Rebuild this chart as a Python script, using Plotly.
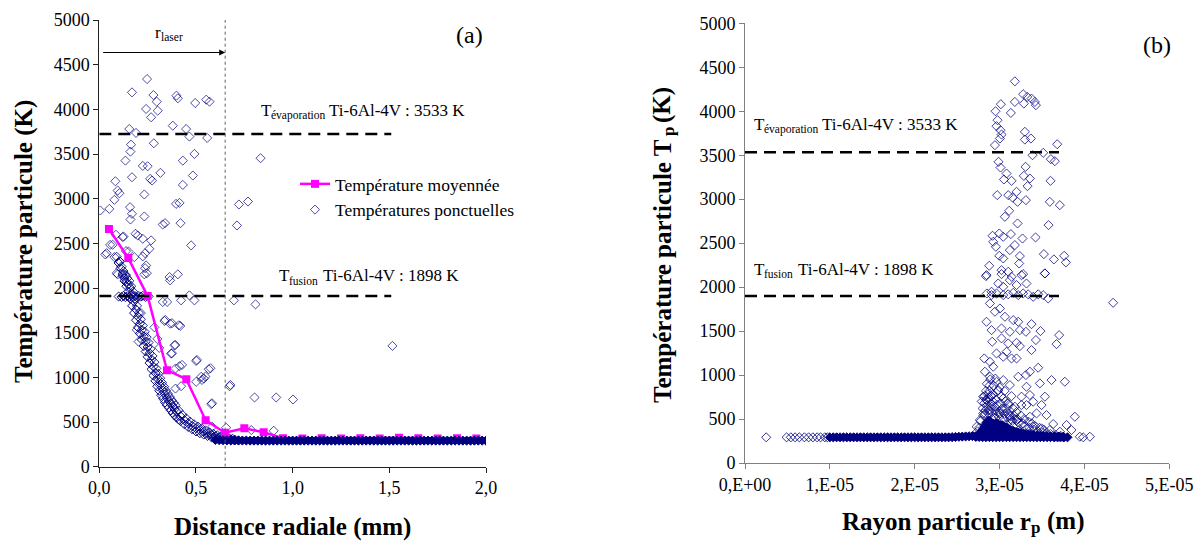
import plotly.graph_objects as go

FONT = "Liberation Serif"
NAVY = "#000080"
PINK = "#ff00ff"

# ---------------- (a) Distance radiale ----------------
avg_x = [0.05, 0.15, 0.25, 0.35, 0.45, 0.55, 0.65, 0.75, 0.85, 0.95, 1.05, 1.15, 1.25,
         1.35, 1.45, 1.55, 1.65, 1.75, 1.85, 1.95]
avg_T = [2660, 2335, 1910, 1080, 980, 520, 380, 430, 385, 318, 316, 318, 316,
         318, 317, 324, 318, 316, 318, 317]

pts_x = [0.247, 0.169, 0.280, 0.297, 0.399, 0.406, 0.496, 0.553, 0.570, 0.242, 0.302, 0.268,
         0.380, 0.449, 0.155, 0.190, 0.466, 0.558, 0.282, 0.164, 0.161, 0.492, 0.834, 0.135,
         0.432, 0.225, 0.250, 0.316, 0.484, 0.169, 0.263, 0.273, 0.083, 0.432, 0.095, 0.104,
         0.078, 0.233, 0.397, 0.415, 0.722, 0.769, 0.005, 0.052, 0.159, 0.169, 0.233, 0.161,
         0.328, 0.340, 0.420, 0.712, 0.187, 0.199, 0.086, 0.121, 0.225, 0.268, 0.475, 0.259,
         0.069, 0.138, 0.031, 0.078, 0.181, 0.225, 0.095, 0.138, 0.363, 0.406,
         0.242, 0.233, 0.366, 0.466, 0.492, 0.423, 0.328, 0.351, 0.696, 0.808, 0.337, 0.366,
         0.411, 1.516, 0.389, 0.371, 0.501, 0.415, 0.566, 0.394, 0.527, 0.541, 0.501, 0.394,
         0.423, 0.674, 0.579, 0.803, 0.915, 1.002, 0.584, 0.656, 0.786, 0.902,
         0.038, 0.056, 0.090, 0.107, 0.203, 0.194, 0.341, 0.376, 0.419, 0.393, 0.376, 0.428,
         0.505, 0.575, 0.549, 0.531, 0.583, 0.678, 0.151, 0.125, 0.237, 0.237, 0.246, 0.215,
         0.300, 0.310, 0.285]
pts_T = [4339, 4190, 4160, 4086, 4153, 4123, 4071, 4108, 4086, 4004, 3985, 3911,
         3817, 3780, 3780, 3736, 3695, 3680, 3620, 3605, 3527, 3501, 3453, 3426,
         3426, 3367, 3363, 3289, 3259, 3240, 3222, 3203, 3195, 3154, 3091, 3061,
         2987, 3047, 2942, 2953, 2935, 2968, 2868, 2886, 2905, 2831, 2801, 2767,
         2711, 2726, 2726, 2700, 2607, 2588, 2596, 2570, 2551, 2533, 2477, 2439,
         2484, 2413, 2376, 2346, 2346, 2354, 2153, 2141, 2123, 2153,
         2253, 2153, 2086, 1918, 1862, 1862, 1844, 1844, 1862, 1817, 1631, 1601,
         1583, 1352, 1359, 1266, 1184, 1125, 1091, 1099, 1006, 987, 950, 875,
         901, 901, 700, 775, 775, 752, 447, 436, 410, 402,
         2390, 2483, 2166, 2296, 1400, 1531, 1643, 1606, 1576, 1363, 1270, 1139,
         1195, 1102, 1009, 971, 710, 915, 2408, 2576, 2390, 2222, 2166, 1720,
         1430, 1330, 1560]

curve_x = [0.10, 0.11, 0.12, 0.13, 0.14, 0.15, 0.16, 0.17, 0.18, 0.19, 0.20, 0.21, 0.22, 0.23,
           0.24, 0.25, 0.26, 0.27, 0.28, 0.29, 0.30, 0.31, 0.32, 0.33, 0.34, 0.35, 0.36, 0.37,
           0.38, 0.39, 0.40, 0.42, 0.44, 0.46, 0.48, 0.50, 0.52, 0.54, 0.56, 0.58, 0.60, 0.62,
           0.64, 0.66, 0.68, 0.70]
curve_T = [2280, 2220, 2160, 2110, 2070, 2040, 2000, 1930, 1850, 1760, 1680, 1600, 1530, 1460,
           1400, 1340, 1270, 1200, 1120, 1050, 990, 940, 895, 850, 810, 770, 735, 705,
           675, 645, 615, 565, 520, 485, 455, 430, 410, 390, 370, 355, 340, 330,
           322, 315, 308, 303]
curve2_x = [0.09, 0.105, 0.115, 0.125, 0.135, 0.145, 0.155, 0.165, 0.175, 0.185, 0.195, 0.205,
            0.215, 0.225, 0.235, 0.245, 0.255, 0.265, 0.275, 0.285, 0.295, 0.305, 0.315, 0.325,
            0.335, 0.345, 0.355, 0.365, 0.375, 0.385, 0.395, 0.41, 0.43, 0.45, 0.47, 0.49,
            0.51, 0.53, 0.55, 0.57, 0.59, 0.61, 0.63, 0.65, 0.67, 0.69]
curve2_T = [2350, 2300, 2240, 2190, 2150, 2110, 2080, 2020, 1960, 1880, 1800, 1720,
            1650, 1580, 1510, 1450, 1390, 1320, 1240, 1170, 1100, 1040, 990, 940,
            895, 850, 815, 780, 745, 715, 685, 630, 580, 540, 505, 475,
            450, 428, 405, 385, 368, 352, 340, 330, 320, 312]
curve3_x = [0.12, 0.13, 0.14, 0.15, 0.16, 0.17, 0.18, 0.19, 0.20, 0.21, 0.22, 0.23, 0.24, 0.25,
            0.26, 0.27, 0.28, 0.29, 0.30, 0.31, 0.32, 0.33, 0.34, 0.35, 0.36, 0.37, 0.38, 0.39,
            0.40, 0.41, 0.42, 0.44, 0.46, 0.48, 0.50, 0.52, 0.54, 0.56, 0.58, 0.60, 0.62, 0.64,
            0.66, 0.68, 0.70, 0.72]
curve3_T = [2140, 2080, 2020, 1960, 1880, 1800, 1720, 1640, 1560, 1490, 1420, 1350, 1290, 1230,
            1160, 1090, 1020, 960, 900, 850, 800, 760, 720, 690, 660, 630, 600, 575,
            550, 530, 510, 475, 445, 420, 395, 375, 360, 345, 330, 320, 310, 305,
            300, 298, 296, 295]
plat_x = [0.10, 0.115, 0.125, 0.135, 0.145, 0.155, 0.165, 0.175, 0.185, 0.195, 0.205, 0.215,
          0.225, 0.24, 0.255]
plat_T = [1905, 1900, 1912, 1898, 1908, 1902, 1915, 1900, 1908, 1896, 1910, 1904,
          1912, 1900, 1906]

band_x = [0.60, 0.62, 0.64, 0.66, 0.68, 0.70, 0.72, 0.74, 0.76, 0.78, 0.80, 0.82, 0.84, 0.86,
          0.88, 0.90, 0.92, 0.94, 0.96, 0.98, 1.00, 1.02, 1.04, 1.06, 1.08, 1.10, 1.12, 1.14,
          1.16, 1.18, 1.20, 1.22, 1.24, 1.26, 1.28, 1.30, 1.32, 1.34, 1.36, 1.38, 1.40, 1.42,
          1.44, 1.46, 1.48, 1.50, 1.52, 1.54, 1.56, 1.58, 1.60, 1.62, 1.64, 1.66, 1.68, 1.70,
          1.72, 1.74, 1.76, 1.78, 1.80, 1.82, 1.84, 1.86, 1.88, 1.90, 1.92, 1.94, 1.96, 1.98,
          2.00]
band_T = [300, 298, 296, 295, 294, 294, 293, 293, 293, 292, 292, 292, 292, 292,
          292, 292, 292, 292, 292, 292, 292, 292, 292, 292, 292, 292, 292, 292,
          292, 292, 292, 292, 292, 292, 292, 292, 292, 292, 292, 292, 292, 292,
          292, 292, 292, 292, 292, 292, 292, 292, 292, 292, 292, 292, 292, 292,
          292, 292, 292, 292, 292, 292, 292, 292, 292, 292, 292, 292, 292, 292,
          292]

# ---------------- (b) Rayon particule (values in 1e-5 m) ----------------
rp_pts = [3.18, 3.278, 3.326, 3.376, 3.416, 3.428, 3.180, 3.286, 3.015, 2.952, 3.133, 2.976,
          2.964, 3.011, 3.023, 3.004, 3.298, 3.298, 3.369, 2.945, 3.679, 3.514, 3.388, 3.604,
          3.651, 2.988, 3.011, 3.306, 3.082, 3.286, 3.357, 3.051, 3.141, 3.329, 3.600, 2.972,
          3.102, 3.200, 3.153, 3.212, 3.310, 3.592, 3.710, 3.113, 3.062, 3.212, 3.577, 2.917,
          2.996, 3.043, 3.133, 2.925, 3.270, 3.424, 2.956, 3.121, 3.180, 3.522, 3.640, 3.761,
          3.781, 2.996, 3.043, 3.239, 3.231, 2.878, 2.846, 3.023, 3.102, 3.534, 3.278, 3.141,
          2.839, 3.534, 3.023, 3.258, 3.317, 2.984, 3.043, 2.905, 3.200, 3.121,
          2.850, 2.905, 2.964, 3.043, 3.102, 3.161, 3.220, 3.278, 3.337, 3.396, 3.455, 3.514, 3.573,
          4.338,
          2.886, 2.945, 3.004, 3.063, 3.161, 3.220, 2.846, 2.905, 3.023, 3.121, 3.239, 3.376,
          3.310, 3.482, 3.428, 3.702, 3.671, 2.913, 3.023, 3.102, 3.200, 3.239, 3.376, 3.082,
          2.819, 2.886, 2.925, 3.043, 3.141, 3.200, 2.964, 3.455, 3.357, 3.310, 3.612, 3.769,
          3.475, 2.827, 2.886, 2.964, 3.043, 3.121, 3.220, 3.317, 3.258, 3.357, 2.807, 2.846,
          2.905, 2.984, 3.043, 3.102, 3.180, 3.258, 3.396, 3.534, 3.495, 3.317, 3.553, 3.436,
          3.357, 3.887, 3.632, 3.789, 3.848, 3.278, 3.200, 3.121, 3.004, 2.886, 2.807, 2.768,
          2.945, 3.063, 3.161, 3.396, 3.495, 3.593, 3.711, 2.729, 2.866, 2.984, 3.239, 3.357,
          3.945, 3.985, 4.064,
          2.80, 2.82, 2.84, 2.86, 2.88, 2.90, 2.92, 2.83, 2.87, 2.91, 2.95, 2.97, 3.00, 3.03,
          3.06, 3.09, 3.12, 3.15, 3.18, 3.22, 3.26, 3.30, 3.35, 3.40, 3.45, 3.50, 3.55, 3.60,
          3.66, 3.72, 2.78, 2.76, 2.74, 2.85, 2.89, 2.93, 2.98, 3.02, 3.07, 3.11, 3.16, 3.20,
          3.25, 3.29, 3.34, 3.38, 3.42, 3.47, 3.52,
          2.81, 2.83, 2.85, 2.86, 2.87, 2.88, 2.90, 2.91, 2.93, 2.94, 2.96, 2.99, 3.01, 3.04,
          3.05, 3.08, 3.10, 3.13, 3.17, 3.21, 2.84, 2.88, 2.92, 2.96, 3.00, 3.06, 2.79, 2.82,
          2.95, 3.14]
Tp_pts = [4340, 4194, 4163, 4144, 4106, 4069, 4106, 4087, 4080, 4000, 3981, 3898,
          3830, 3784, 3735, 3690, 3766, 3678, 3690, 3614, 3625, 3527, 3500, 3455,
          3432, 3425, 3360, 3368, 3292, 3265, 3235, 3224, 3209, 3148, 3209, 3046,
          3046, 3084, 3019, 2970, 2989, 2970, 2932, 2868, 2800, 2724, 2705, 2584,
          2610, 2572, 2603, 2515, 2553, 2565, 2459, 2421, 2478, 2375, 2315, 2356,
          2281, 2356, 2326, 2353, 2269, 2243, 2137, 2193, 2175, 2156, 2148, 2118,
          2125, 2155, 2148, 2136, 2041, 2041, 2004, 1947, 2023, 2079,
          1928, 1909, 1928, 1909, 1918, 1935, 1909, 1928, 1918, 1890, 1918, 1909, 1871,
          1822,
          1814, 1720, 1757, 1663, 1625, 1606, 1606, 1511, 1530, 1492, 1511, 1579,
          1492, 1500, 1398, 1454, 1352, 1379, 1417, 1360, 1367, 1329, 1284, 1265,
          1189, 1151, 1095, 1208, 1189, 1189, 1246, 1083, 1038, 1000, 943, 924,
          905, 1038, 981, 924, 943, 886, 981, 867, 754, 773, 754, 716,
          761, 829, 735, 678, 640, 659, 697, 754, 659, 659, 545, 564,
          526, 526, 443, 432, 375, 450, 488, 526, 564, 602, 564, 488,
          507, 432, 413, 413, 394, 375, 356, 413, 394, 375, 356, 337,
          299, 292, 299,
          620, 680, 720, 780, 820, 760, 700, 560, 600, 640, 600, 660, 580, 620,
          560, 520, 540, 480, 500, 460, 440, 420, 400, 380, 360, 350, 340, 330,
          320, 310, 480, 400, 360, 900, 950, 880, 820, 760, 700, 660, 620, 580,
          540, 500, 470, 450, 420, 400, 380,
          540, 600, 650, 700, 560, 740, 680, 580, 520, 640, 560, 520, 680, 600,
          500, 620, 560, 500, 540, 500, 820, 880, 780, 720, 860, 820, 700, 760,
          960, 760]

dense_rp = [2.72, 2.75, 2.78, 2.80, 2.82, 2.84, 2.85, 2.86, 2.87, 2.88, 2.89, 2.90, 2.91, 2.92,
            2.93, 2.94, 2.95, 2.96, 2.97, 2.98, 2.99, 3.00, 3.01, 3.02, 3.03, 3.04, 3.05, 3.06,
            3.07, 3.08, 3.09, 3.10, 3.12, 3.14, 3.16, 3.18, 3.20, 3.22, 3.24, 3.26, 3.28, 3.30,
            3.33, 3.36, 3.40, 3.44, 3.48, 3.52, 3.56, 3.60, 3.65, 3.70, 3.75]
dense_T1 = [305, 320, 350, 380, 410, 440, 460, 470, 480, 480, 470, 460, 450, 450,
            440, 440, 445, 450, 450, 440, 430, 420, 420, 425, 430, 420, 410, 400,
            400, 405, 395, 385, 380, 370, 365, 355, 350, 345, 340, 335, 332, 328,
            325, 320, 318, 312, 310, 308, 305, 303, 300, 300, 298]
dense_T2 = [298, 305, 320, 335, 350, 365, 375, 380, 385, 385, 380, 375, 370, 370,
            365, 365, 368, 370, 370, 365, 360, 355, 355, 358, 360, 355, 350, 345,
            345, 348, 342, 338, 335, 330, 328, 322, 320, 318, 315, 312, 311, 310,
            308, 305, 305, 302, 302, 300, 300, 300, 298, 298, 296]

band2_rp = [1.00, 1.04, 1.08, 1.12, 1.16, 1.20, 1.24, 1.28, 1.32, 1.36, 1.40, 1.44, 1.48, 1.52,
            1.56, 1.60, 1.64, 1.68, 1.72, 1.76, 1.80, 1.84, 1.88, 1.92, 1.96, 2.00, 2.04, 2.08,
            2.12, 2.16, 2.20, 2.24, 2.28, 2.32, 2.36, 2.40, 2.44, 2.48, 2.52, 2.56, 2.60, 2.64,
            2.68, 2.72, 2.76, 2.80, 2.84, 2.88, 2.92, 2.96, 3.00, 3.04, 3.08, 3.12, 3.16, 3.20,
            3.24, 3.28, 3.32, 3.36, 3.40, 3.44, 3.48, 3.52, 3.56, 3.60, 3.64, 3.68, 3.72, 3.76,
            3.80]
band2_T = [292, 292, 292, 292, 292, 292, 292, 292, 292, 292, 292, 292, 292, 292,
           292, 292, 292, 292, 292, 292, 292, 292, 292, 292, 292, 292, 292, 292,
           292, 292, 292, 292, 292, 292, 292, 292, 294, 296, 298, 300, 302, 304,
           306, 300, 296, 294, 294, 294, 294, 294, 294, 294, 294, 294, 294, 294,
           294, 294, 294, 294, 294, 294, 294, 294, 294, 294, 294, 294, 294, 292,
           292]
sparse2_rp = [0.25, 0.49, 0.54, 0.59, 0.64, 0.70, 0.75, 0.80, 0.85, 0.89, 0.94, 0.97]
sparse2_T = [292, 292, 292, 292, 292, 292, 292, 292, 292, 292, 292, 292]

E5 = 1e-5

def open_pts(x, y, xa, ya, name=None, show=False, op=0.8):
    return go.Scatter(x=x, y=y, mode="markers", xaxis=xa, yaxis=ya, name=name,
                      showlegend=show, legendrank=2,
                      marker=dict(symbol="diamond-open", size=7, color=NAVY, opacity=op,
                                  line=dict(width=1, color=NAVY)))

def filled_pts(x, y, xa, ya):
    return go.Scatter(x=x, y=y, mode="markers", xaxis=xa, yaxis=ya, showlegend=False,
                      marker=dict(symbol="diamond", size=7, color=NAVY,
                                  line=dict(width=1, color=NAVY)))

fig = go.Figure()
fig.add_trace(open_pts(pts_x, pts_T, "x", "y", "Températures ponctuelles", True, 0.7))
fig.add_trace(open_pts(curve2_x, curve2_T, "x", "y", op=0.85))
fig.add_trace(open_pts(curve_x, curve_T, "x", "y", op=0.95))
fig.add_trace(open_pts(curve3_x, curve3_T, "x", "y", op=0.95))
fig.add_trace(open_pts(plat_x, plat_T, "x", "y", op=0.9))
fig.add_trace(go.Scatter(x=avg_x, y=avg_T, mode="lines+markers", xaxis="x", yaxis="y",
                         name="Température moyennée", legendrank=1,
                         line=dict(color=PINK, width=2.5),
                         marker=dict(symbol="square", size=8, color=PINK)))
fig.add_trace(filled_pts(band_x, band_T, "x", "y"))
fig.add_trace(open_pts([v * E5 for v in rp_pts], Tp_pts, "x2", "y2", op=0.75))
fig.add_trace(open_pts([v * E5 for v in sparse2_rp], sparse2_T, "x2", "y2", op=0.8))
fig.add_trace(filled_pts([v * E5 for v in dense_rp], dense_T1, "x2", "y2"))
fig.add_trace(filled_pts([v * E5 for v in dense_rp], dense_T2, "x2", "y2"))
fig.add_trace(filled_pts([v * E5 for v in band2_rp], band2_T, "x2", "y2"))

# page has an 8px body margin: figure is 1195x534, placed at (8, 8)
W, H = 1195, 534
def PX(x):
    return (x - 8) / W
def PY(y):
    return (542 - y) / H

tickfont = dict(family=FONT, size=18, color="black")

def ax(domain, anchor, rng, tv, tt, lc):
    return dict(domain=domain, anchor=anchor, range=rng, tickvals=tv, ticktext=tt,
                showgrid=False, zeroline=False, showline=True, linecolor=lc, linewidth=1,
                ticks="outside", ticklen=5, tickcolor=lc, tickfont=tickfont,
                automargin=False, fixedrange=True)

yt = [0, 500, 1000, 1500, 2000, 2500, 3000, 3500, 4000, 4500, 5000]
ytt = [str(v) for v in yt]

fig.update_layout(
    width=W, height=H, margin=dict(l=0, r=0, t=0, b=0),
    paper_bgcolor="white", plot_bgcolor="white",
    font=dict(family=FONT, color="black"),
    xaxis=ax([PX(99.3), PX(486)], "y", [0, 2], [0, 0.5, 1, 1.5, 2],
             ["0,0", "0,5", "1,0", "1,5", "2,0"], "#202020"),
    yaxis=ax([PY(466.7), PY(20)], "x", [0, 5000], yt, ytt, "#202020"),
    xaxis2=ax([PX(745), PX(1169.3)], "y2", [0, 5 * E5], [0, E5, 2 * E5, 3 * E5, 4 * E5, 5 * E5],
              ["0,E+00", "1,E-05", "2,E-05", "3,E-05", "4,E-05", "5,E-05"], "#808080"),
    yaxis2=ax([PY(463), PY(23.3)], "x2", [0, 5000], yt, ytt, "#808080"),
    legend=dict(x=PX(295), y=PY(166), xanchor="left", yanchor="top",
                font=dict(family=FONT, size=17.5, color="black"), bgcolor="rgba(0,0,0,0)",
                tracegroupgap=0, itemwidth=30),
    showlegend=True,
)

dash = "12px,7px"
shapes = [
    dict(type="line", xref="x", yref="y", x0=0, x1=1.51, y0=3725, y1=3725,
         line=dict(color="black", width=2.5, dash=dash)),
    dict(type="line", xref="x", yref="y", x0=0, x1=1.51, y0=1911, y1=1911,
         line=dict(color="black", width=2.5, dash=dash)),
    dict(type="line", xref="x", yref="y", x0=0.651, x1=0.651, y0=0, y1=5000,
         line=dict(color="#606060", width=1, dash="dot")),
    dict(type="line", xref="x2", yref="y2", x0=0, x1=3.70 * E5, y0=3533, y1=3533,
         line=dict(color="black", width=2.5, dash=dash)),
    dict(type="line", xref="x2", yref="y2", x0=0, x1=3.70 * E5, y0=1898, y1=1898,
         line=dict(color="black", width=2.5, dash=dash)),
]
fig.update_layout(shapes=shapes)

MAIN = dict(family=FONT, size=17, color="black")
SUB = dict(family=FONT, size=11.5, color="black")
TITLE = dict(family=FONT, size=25, color="black", weight="bold")
TSUB = dict(family=FONT, size=17, color="black", weight="bold")

anns = []

def label(xref, yref, x, y, sub, rest, rest_shift):
    anns.append(dict(xref=xref, yref=yref, x=x, y=y, xanchor="left", yanchor="middle",
                     text="T", showarrow=False, font=MAIN))
    anns.append(dict(xref=xref, yref=yref, x=x, y=y, xanchor="left", yanchor="middle",
                     xshift=10, yshift=-5, text=sub, showarrow=False, font=SUB))
    anns.append(dict(xref=xref, yref=yref, x=x, y=y, xanchor="left", yanchor="middle",
                     xshift=rest_shift, text=rest, showarrow=False, font=MAIN))

label("x", "y", 0.825, 3983, "évaporation", "Ti-6Al-4V : 3533 K", 68)
label("x", "y", 0.92, 2139, "fusion", "Ti-6Al-4V : 1898 K", 44)
label("x2", "y2", 0.082 * E5, 3852, "évaporation", "Ti-6Al-4V : 3533 K", 68)
label("x2", "y2", 0.082 * E5, 2205, "fusion", "Ti-6Al-4V : 1898 K", 44)

# r_laser
anns.append(dict(xref="x", yref="y", x=0.279, y=4857, xanchor="left", yanchor="middle",
                 text="r", showarrow=False, font=MAIN))
anns.append(dict(xref="x", yref="y", x=0.279, y=4857, xanchor="left", yanchor="middle",
                 xshift=6, yshift=-4, text="laser", showarrow=False, font=SUB))
anns.append(dict(xref="x", yref="y", x=0.651, y=4636, ax=0.012, ay=4636, axref="x", ayref="y",
                 text="", showarrow=True, arrowhead=2, arrowsize=1, arrowwidth=1.2,
                 arrowcolor="black"))
anns.append(dict(xref="x", yref="y", x=1.913, y=4834, xanchor="center", yanchor="middle",
                 text="(a)", showarrow=False, font=dict(family=FONT, size=24, color="black")))
anns.append(dict(xref="x2", yref="y2", x=4.85 * E5, y=4750, xanchor="center", yanchor="middle",
                 text="(b)", showarrow=False, font=dict(family=FONT, size=24, color="black")))

def pann(x, y, text, font, angle=0, xanchor="center"):
    anns.append(dict(xref="paper", yref="paper", x=PX(x), y=PY(y), xanchor=xanchor,
                     yanchor="middle", textangle=angle, text=text, showarrow=False, font=font))

# axis titles
pann(24, 242, "Température particule (K)", TITLE, -90)
pann(292, 527, "Distance radiale (mm)", TITLE)
# right y title: "Température particule T" + sub "p" + "(K)" (rotated)
pann(662, 271, "Température particule T", TITLE, -90)
pann(668, 132, "p", TSUB, -90)
pann(662, 105, "(K)", TITLE, -90)
# right x title: "Rayon particule r" + sub "p" + "(m)"
pann(840, 521, "Rayon particule r", TITLE, 0, "left")
pann(1029, 527, "p", TSUB, 0, "left")
pann(1045, 521, "(m)", TITLE, 0, "left")

fig.update_layout(annotations=anns)

fig.write_html("out.html")
